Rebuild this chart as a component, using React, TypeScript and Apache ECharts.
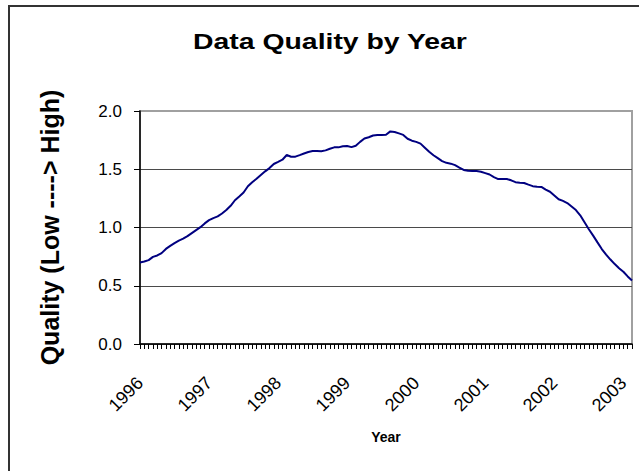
import React, { useEffect, useRef } from "react";
import * as echarts from "echarts";

const yearLabels = ["1996", "1997", "1998", "1999", "2000", "2001", "2002", "2003"];
const periodsPerYear = 16;

const qualityValues = [
  0.70, 0.708, 0.72, 0.748, 0.76, 0.78, 0.816, 0.842, 0.866, 0.888,
  0.904, 0.926, 0.952, 0.978, 1.003, 1.035, 1.063, 1.081, 1.095, 1.12,
  1.15, 1.186, 1.234, 1.266, 1.30, 1.354, 1.389, 1.418, 1.45, 1.482,
  1.51, 1.545, 1.563, 1.582, 1.622, 1.607, 1.608, 1.621, 1.635, 1.648,
  1.657, 1.656, 1.655, 1.662, 1.676, 1.688, 1.688, 1.698, 1.70, 1.69,
  1.702, 1.735, 1.764, 1.775, 1.79, 1.794, 1.794, 1.796, 1.825, 1.82,
  1.808, 1.795, 1.762, 1.745, 1.735, 1.72, 1.685, 1.65, 1.62, 1.595,
  1.57, 1.555, 1.548, 1.535, 1.514, 1.494, 1.487, 1.486, 1.485, 1.479,
  1.467, 1.455, 1.433, 1.416, 1.416, 1.416, 1.405, 1.389, 1.384, 1.382,
  1.368, 1.355, 1.349, 1.348, 1.325, 1.307, 1.275, 1.242, 1.228, 1.21,
  1.18, 1.15, 1.105, 1.045, 0.985, 0.93, 0.872, 0.815, 0.767, 0.725,
  0.686, 0.65, 0.62, 0.58, 0.545,
];

const categories = qualityValues.map(
  (_, i) => `${yearLabels[Math.floor(i / periodsPerYear)]}-${(i % periodsPerYear) + 1}`
);

const titleText = "Data Quality by Year";
const yAxisTitle = "Quality (Low ----> High)";
const xAxisTitle = "Year";

const FONT = "'Liberation Sans', Arial, Helvetica, sans-serif";

export default function App() {
  const ref = useRef<HTMLDivElement>(null);

  useEffect(() => {
    if (!ref.current) return;
    const chart = echarts.init(ref.current, null, { renderer: "svg" });
    chart.setOption({
      animation: false,
      backgroundColor: "#ffffff",
      grid: {
        left: 140,
        right: 7,
        top: 111,
        bottom: 127,
        show: true,
        borderColor: "#a0a0a0",
        borderWidth: 2,
        backgroundColor: "transparent",
      },
      graphic: [
        {
          type: "rect",
          shape: { x: 9, y: 6, width: 660, height: 500 },
          style: { fill: "none", stroke: "#333333", lineWidth: 2 },
          silent: true,
          z: 100,
        },
        {
          type: "text",
          x: 330,
          y: 41,
          scaleX: 1.29,
          style: {
            text: titleText,
            fontFamily: FONT,
            fontSize: 22,
            fontWeight: "bold",
            fill: "#000000",
            textAlign: "center",
            textVerticalAlign: "middle",
          },
        },
      ],
      xAxis: {
        type: "category",
        data: categories,
        boundaryGap: false,
        name: xAxisTitle,
        nameLocation: "middle",
        nameGap: 86,
        nameTextStyle: {
          fontFamily: FONT,
          fontSize: 14,
          fontWeight: "bold",
          color: "#000",
          verticalAlign: "top",
        },
        axisLine: { show: true, lineStyle: { color: "#000", width: 1.5 } },
        axisTick: {
          show: true,
          interval: 0,
          length: 5,
          lineStyle: { color: "#000", width: 1 },
        },
        axisLabel: {
          interval: periodsPerYear - 1,
          rotate: 45,
          margin: 36,
          fontFamily: FONT,
          fontSize: 18,
          color: "#000",
          formatter: (v: string) => v.split("-")[0],
        },
        splitLine: { show: false },
      },
      yAxis: {
        type: "value",
        min: 0,
        max: 2,
        interval: 0.5,
        name: yAxisTitle,
        nameLocation: "middle",
        nameRotate: 90,
        nameGap: 78,
        nameTextStyle: {
          fontFamily: FONT,
          fontSize: 25,
          fontWeight: "bold",
          color: "#000",
        },
        axisLine: { show: true, lineStyle: { color: "#000", width: 1.5 } },
        axisTick: { show: true, length: 6, lineStyle: { color: "#000" } },
        axisLabel: {
          margin: 18,
          fontFamily: FONT,
          fontSize: 17,
          color: "#000",
          formatter: (v: number) => v.toFixed(1),
        },
        splitLine: {
          show: true,
          lineStyle: {
            color: ["#4a4a4a", "#4a4a4a", "#4a4a4a", "#4a4a4a", "#a0a0a0"],
            width: 1,
          },
        },
      },
      series: [
        {
          type: "line",
          data: qualityValues,
          showSymbol: false,
          symbol: "none",
          lineStyle: { color: "#000080", width: 2 },
          itemStyle: { color: "#000080" },
        },
      ],
    });
    return () => chart.dispose();
  }, []);

  return (
    <div
      ref={ref}
      style={{ position: "fixed", left: 0, top: 0, width: 639, height: 471 }}
    />
  );
}
